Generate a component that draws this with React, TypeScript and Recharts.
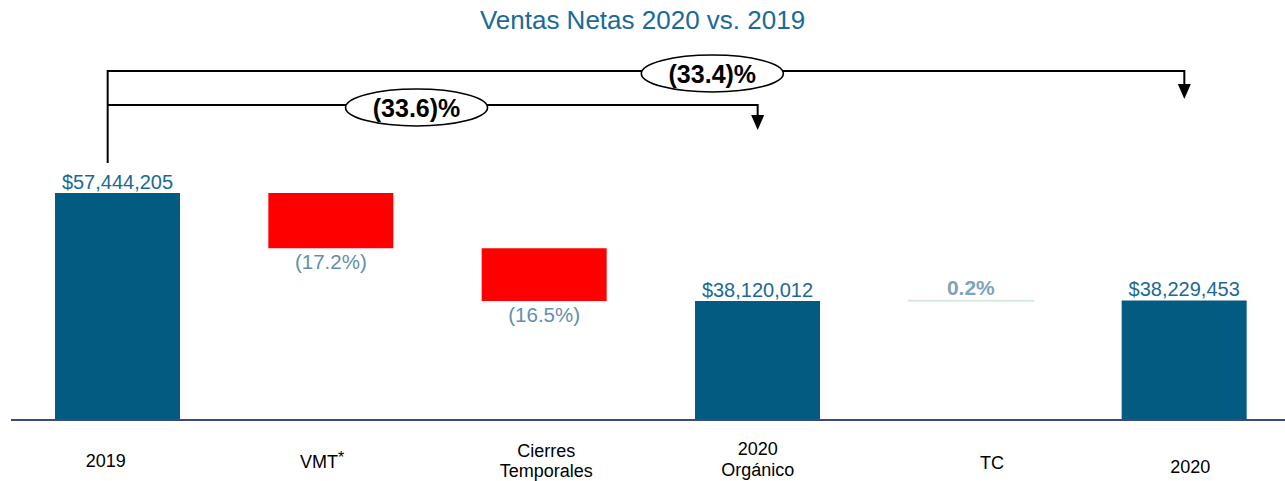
import React from 'react';
import { BarChart, Bar, XAxis, YAxis, Cell, LabelList, ReferenceLine } from 'recharts';

// ---- data ----
const title = 'Ventas Netas 2020 vs. 2019';
const categories = ['2019', 'VMT', 'Cierres', 'Organico', 'TC', '2020'];
const tickLabels: string[][] = [
  ['2019'],
  ['VMT*'],
  ['Cierres', 'Temporales'],
  ['2020', 'Orgánico'],
  ['TC'],
  ['2020'],
];
const barStarts: (number | null)[] = [null, 47581000, 38120012, null, 38120012, null];
const barEnds: number[] = [57444205, 57444205, 47581000, 38120012, 38229453, 38229453];
const barKinds: string[] = ['total', 'down', 'down', 'total', 'up', 'total'];
const barLabels: string[] = ['$57,444,205', '(17.2%)', '(16.5%)', '$38,120,012', '0.2%', '$38,229,453'];
const bracketFrom: string[] = ['2019', '2019'];
const bracketTo: string[] = ['2020', 'Organico'];
const bracketLabels: string[] = ['(33.4)%', '(33.6)%'];
const yDomain: [number, number] = [16830000, 83030000];

const rows = categories.map((c, i) => ({
  cat: c,
  range: barStarts[i] == null ? barEnds[i] : [barStarts[i] as number, barEnds[i]],
  label: barLabels[i],
  kind: barKinds[i],
}));

// ---- styles ----
const FONT = '"Liberation Sans", Arial, sans-serif';
const BLUE = '#035b81';
const RED = '#ff0000';
const UP = '#d4ebe0';
const LABEL_BLUE = '#1b6a92';
const PCT_BLUE = '#5f8fad';

const tickLayout: { dx: number; dy: number[] }[] = [
  { dx: -12, dy: [47] },
  { dx: -9, dy: [48] },
  { dx: 2, dy: [37, 57] },
  { dx: 0, dy: [35, 56] },
  { dx: 21, dy: [49] },
  { dx: 6, dy: [53] },
];

const bracketLayout = [
  { lift: 122, tipDrop: 94, frac: 0.5616, drawStem: true },
  { lift: 88, tipDrop: 63, frac: 0.4752, drawStem: false },
];

const CustomTick = (props: any) => {
  const { x, y, payload } = props;
  const idx = categories.indexOf(payload.value);
  const lines = tickLabels[idx] || [String(payload.value)];
  const lay = tickLayout[idx] || { dx: 0, dy: [47] };
  return (
    <g>
      {lines.map((ln, k) => {
        if (ln.endsWith('*')) {
          return (
            <text key={k} x={x + lay.dx} y={y + lay.dy[k]} textAnchor="middle" fontFamily={FONT} fontSize={18} fill="#000">
              {ln.slice(0, -1)}
              <tspan fontSize={16} dy={-5}>*</tspan>
            </text>
          );
        }
        return (
          <text key={k} x={x + lay.dx} y={y + lay.dy[k]} textAnchor="middle" fontFamily={FONT} fontSize={18} fill="#000">
            {ln}
          </text>
        );
      })}
    </g>
  );
};

const renderBarLabel = (props: any) => {
  const { x, y, width, height, value } = props;
  const top = Math.min(y, y + height);
  const bottom = Math.max(y, y + height);
  const cx = x + width / 2;
  const v = String(value);
  if (v.startsWith('$')) {
    return (
      <text x={cx} y={top - 4} textAnchor="middle" fontFamily={FONT} fontSize={20} fill={LABEL_BLUE}>
        {v}
      </text>
    );
  }
  if (v.startsWith('(')) {
    return (
      <text x={cx} y={bottom + 21} textAnchor="middle" fontFamily={FONT} fontSize={20.5} fill={PCT_BLUE}>
        {v}
      </text>
    );
  }
  return (
    <text x={cx} y={top - 5} textAnchor="middle" fontFamily={FONT} fontSize={21} fontWeight="bold" fill="#7fa3bb">
      {v}
    </text>
  );
};

const makeBracketShape = (i: number) => (props: any) => {
  const { x1, y1, x2 } = props;
  const lay = bracketLayout[i];
  const xL = x1 - 10;
  const levelY = y1 - lay.lift;
  const tipY = y1 - lay.tipDrop;
  const headH = 15;
  const headW = 13;
  const cx = xL + lay.frac * (x2 - xL);
  const cy = levelY + 2.5;
  return (
    <g>
      {lay.drawStem && (
        <line x1={xL} y1={y1 - 30} x2={xL} y2={levelY - 1} stroke="#000" strokeWidth={2} />
      )}
      <polyline
        points={`${xL},${levelY} ${x2},${levelY} ${x2},${tipY - headH}`}
        fill="none"
        stroke="#000"
        strokeWidth={2}
      />
      <polygon
        points={`${x2 - headW / 2},${tipY - headH} ${x2 + headW / 2},${tipY - headH} ${x2},${tipY}`}
        fill="#000"
      />
      <ellipse cx={cx} cy={cy} rx={71} ry={18.5} fill="#fff" stroke="#000" strokeWidth={1.6} />
      <text x={cx} y={cy + 9} textAnchor="middle" fontFamily={FONT} fontSize={25} fontWeight="bold" fill="#000">
        {bracketLabels[i]}
      </text>
    </g>
  );
};

export default function App() {
  return (
    <div
      style={{
        position: 'absolute',
        left: 0,
        top: 0,
        width: 1285,
        height: 481,
        overflow: 'hidden',
        background: '#fff',
      }}
    >
      <div
        style={{
          position: 'absolute',
          left: 0,
          top: 5,
          width: 1285,
          textAlign: 'center',
          fontFamily: FONT,
          fontSize: 26,
          lineHeight: '30px',
          color: '#1a6a98',
          zIndex: 2,
        }}
      >
        {title}
      </div>
      <BarChart
        width={1300}
        height={481}
        data={rows}
        margin={{ top: 50, right: 9, bottom: 0, left: 11 }}
        barSize={125}
      >
        <YAxis hide type="number" domain={yDomain} allowDataOverflow />
        <XAxis
          dataKey="cat"
          interval={0}
          height={61}
          tickLine={false}
          tickSize={0}
          tickMargin={0}
          axisLine={{ stroke: '#3a4a7c', strokeWidth: 2 }}
          tick={<CustomTick />}
        />
        <Bar dataKey="range" isAnimationActive={false}>
          {rows.map((r, i) => (
            <Cell
              key={i}
              fill={r.kind === 'total' ? BLUE : r.kind === 'down' ? RED : UP}
              stroke={r.kind === 'up' ? UP : 'none'}
              strokeWidth={r.kind === 'up' ? 1.5 : 0}
            />
          ))}
          <LabelList dataKey="label" content={renderBarLabel} />
        </Bar>
        {bracketFrom.map((f, i) => {
          const fi = categories.indexOf(f);
          const ti = categories.indexOf(bracketTo[i]);
          return (
            <ReferenceLine
              key={i}
              ifOverflow="visible"
              segment={[
                { x: f, y: barEnds[fi] },
                { x: bracketTo[i], y: barEnds[ti] },
              ]}
              shape={makeBracketShape(i)}
            />
          );
        })}
      </BarChart>
    </div>
  );
}
